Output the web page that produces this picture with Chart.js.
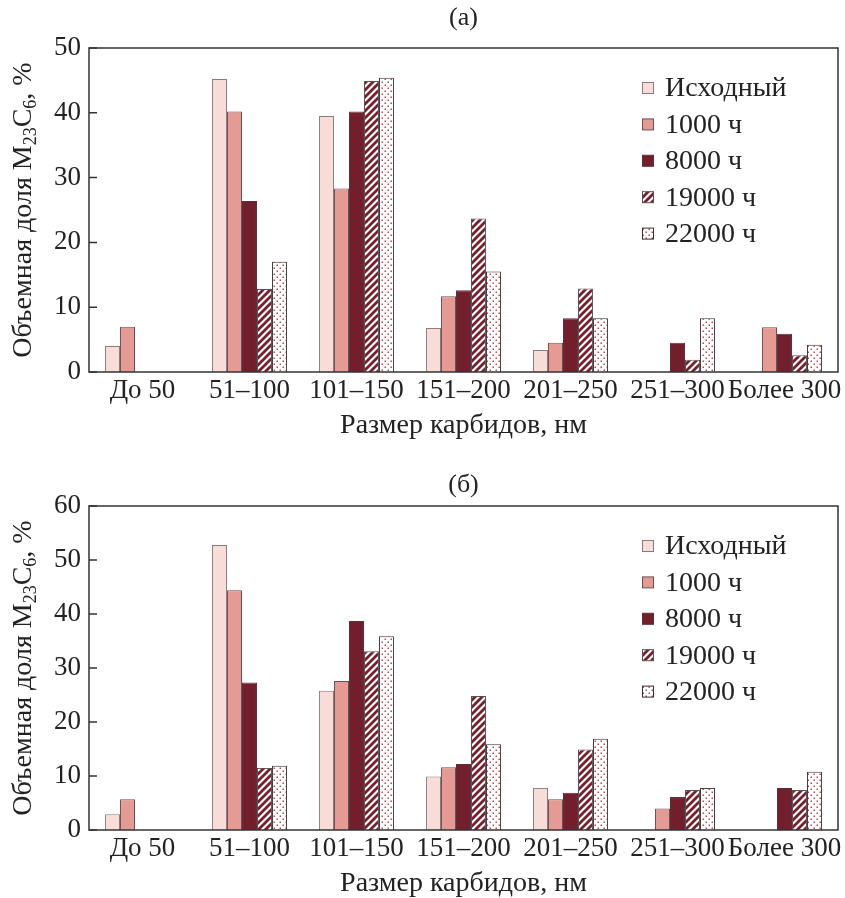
<!DOCTYPE html>
<html>
<head>
<meta charset="utf-8">
<script src="https://cdn.jsdelivr.net/npm/chart.js@4"></script>
<style>
  body { margin: 0; background: #fff; }
  .box { position: absolute; left: 0; width: 845px; height: 440px; }
</style>
</head>
<body>
<div class="box" style="top:0"><canvas id="chart-a" width="845" height="440"></canvas></div>
<div class="box" style="top:458px"><canvas id="chart-b" width="845" height="440"></canvas></div>
<script>
const categories = ["До 50", "51–100", "101–150", "151–200", "201–250", "251–300", "Более 300"];
const seriesLabels = ["Исходный", "1000 ч", "8000 ч", "19000 ч", "22000 ч"];

// panel (a)
const a_initial = [4.0, 45.2, 39.5, 6.8, 3.4, 0, 0];
const a_1000 = [7.0, 40.2, 28.3, 11.7, 4.5, 0, 6.9];
const a_8000 = [0, 26.4, 40.2, 12.6, 8.3, 4.5, 5.9];
const a_19000 = [0, 12.8, 44.9, 23.7, 12.9, 1.9, 2.6];
const a_22000 = [0, 17.0, 45.4, 15.5, 8.3, 8.3, 4.2];

// panel (б)
const b_initial = [2.9, 52.8, 25.8, 9.9, 7.8, 0, 0];
const b_1000 = [5.7, 44.4, 27.6, 11.6, 5.7, 4.0, 0];
const b_8000 = [0, 27.3, 38.7, 12.2, 6.9, 6.1, 7.8];
const b_19000 = [0, 11.5, 33.1, 24.8, 14.9, 7.4, 7.4];
const b_22000 = [0, 11.9, 35.9, 15.9, 16.9, 7.8, 10.8];

const yTicksA = [0, 10, 20, 30, 40, 50];
const yTicksB = [0, 10, 20, 30, 40, 50, 60];

const FONT = "'Liberation Serif', 'Times New Roman', serif";

function stripePattern() {
  const c = document.createElement("canvas");
  c.width = 7; c.height = 7;
  const g = c.getContext("2d");
  g.fillStyle = "#fff";
  g.fillRect(0, 0, 7, 7);
  g.strokeStyle = "#7a1e2c";
  g.lineWidth = 2.8;
  g.beginPath();
  g.moveTo(-1, 8); g.lineTo(8, -1);
  g.moveTo(-4, 4); g.lineTo(4, -4);
  g.moveTo(3, 11); g.lineTo(11, 3);
  g.stroke();
  return g.createPattern(c, "repeat");
}

function dotPattern() {
  const c = document.createElement("canvas");
  c.width = 6; c.height = 6;
  const g = c.getContext("2d");
  g.fillStyle = "#fff";
  g.fillRect(0, 0, 6, 6);
  g.fillStyle = "#c04a50";
  g.fillRect(0.5, 0.5, 1.5, 1.5);
  g.fillRect(3.5, 3.5, 1.5, 1.5);
  return g.createPattern(c, "repeat");
}

const fills = ["#f8dcd8", "#e59a94", "#731e2d", stripePattern(), dotPattern()];
const borders = ["#8a7a7a", "#6a5050", "#5a3038", "#555", "#333"];

// frame, inward ticks, titles, legend
const decor = {
  id: "decor",
  afterDraw(chart, args, opts) {
    const ctx = chart.ctx;
    const area = chart.chartArea;
    const y = chart.scales.y;
    ctx.save();
    ctx.strokeStyle = "#333";
    ctx.lineWidth = 1.5;
    ctx.strokeRect(area.left, area.top, area.right - area.left, area.bottom - area.top);
    ctx.beginPath();
    y.ticks.forEach((t) => {
      const py = y.getPixelForValue(t.value);
      ctx.moveTo(area.left, py);
      ctx.lineTo(area.left + 8, py);
    });
    ctx.stroke();

    ctx.fillStyle = "#222";
    ctx.font = "26px " + FONT;
    ctx.textAlign = "center";
    ctx.textBaseline = "middle";
    ctx.fillText(opts.title, (area.left + area.right) / 2, opts.titleY);
    ctx.font = "28px " + FONT;
    ctx.fillText("Размер карбидов, нм", (area.left + area.right) / 2, area.bottom + 54);

    // y title with subscripts
    const parts = [["Объемная доля M", 0], ["23", 1], ["C", 0], ["6", 1], [", %", 0]];
    const big = "28px " + FONT, small = "18px " + FONT;
    let total = 0;
    parts.forEach((p) => { ctx.font = p[1] ? small : big; total += ctx.measureText(p[0]).width; });
    ctx.translate(22, (area.top + area.bottom) / 2);
    ctx.rotate(-Math.PI / 2);
    ctx.textAlign = "left";
    ctx.textBaseline = "alphabetic";
    let x = -total / 2;
    parts.forEach((p) => {
      ctx.font = p[1] ? small : big;
      ctx.fillText(p[0], x, p[1] ? 14 : 9);
      x += ctx.measureText(p[0]).width;
    });
    ctx.setTransform(1, 0, 0, 1, 0, 0);

    // legend
    ctx.font = "28px " + FONT;
    ctx.textBaseline = "middle";
    ctx.textAlign = "left";
    chart.data.datasets.forEach((ds, i) => {
      const ly = area.top + 40 + i * 36.4;
      ctx.fillStyle = ds.backgroundColor;
      ctx.fillRect(642, ly - 5.5, 11, 11);
      ctx.strokeStyle = ds.borderColor;
      ctx.lineWidth = 1;
      ctx.strokeRect(642.5, ly - 5.5, 11, 11);
      ctx.fillStyle = "#222";
      ctx.fillText(ds.label, 665, ly + 1);
    });
    ctx.restore();
  }
};

function makeChart(id, series, yMax, title, titleY) {
  return new Chart(document.getElementById(id), {
    type: "bar",
    data: {
      labels: categories,
      datasets: series.map((values, i) => ({
        label: seriesLabels[i],
        data: values,
        backgroundColor: fills[i],
        borderColor: borders[i],
        borderWidth: 1,
        categoryPercentage: 0.7,
        barPercentage: 1.0,
      })),
    },
    options: {
      responsive: false,
      animation: false,
      layout: { padding: { top: 48, right: 7, left: 0, bottom: 0 } },
      plugins: {
        legend: { display: false },
        tooltip: { enabled: false },
        decor: { title: title, titleY: titleY },
      },
      scales: {
        x: {
          grid: { display: false, drawTicks: false },
          border: { display: false },
          ticks: { color: "#222", font: { family: FONT, size: 27 }, padding: 3, maxRotation: 0, autoSkip: false },
          afterFit: (s) => { s.height = 68; },
        },
        y: {
          min: 0,
          max: yMax,
          grid: { display: false, drawTicks: false },
          border: { display: false },
          ticks: { color: "#222", font: { family: FONT, size: 27 }, padding: 8, stepSize: 10 },
          afterFit: (s) => { s.width = 89; },
        },
      },
    },
    plugins: [decor],
  });
}

makeChart("chart-a", [a_initial, a_1000, a_8000, a_19000, a_22000], yTicksA[yTicksA.length - 1], "(а)", 18);
makeChart("chart-b", [b_initial, b_1000, b_8000, b_19000, b_22000], yTicksB[yTicksB.length - 1], "(б)", 27);
</script>
</body>
</html>
